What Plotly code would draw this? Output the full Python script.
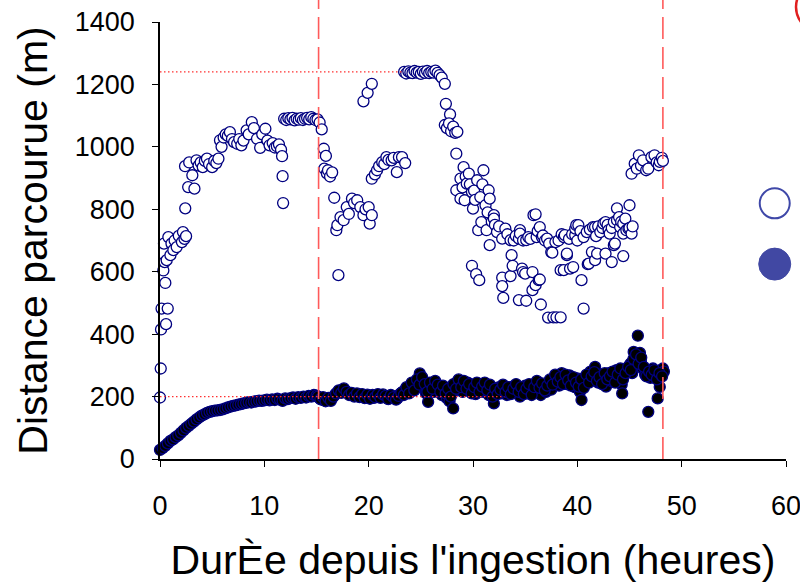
import plotly.graph_objects as go

# ---- data ----
open_x = [0.0, 0.07, 0.1, 0.15, 0.32, 0.38, 0.45, 0.51, 0.58, 0.64, 0.74, 0.8, 1.0, 1.1, 1.28, 1.4, 1.6, 1.8,
          2.1, 2.2, 2.35, 2.42, 2.4, 2.5, 2.7, 2.8, 3.1, 3.3, 3.5, 3.7, 3.9, 4.1, 4.3, 4.5, 4.7, 5.0, 5.2, 5.4,
          5.6, 5.75, 5.9, 6.1, 6.3, 6.5, 6.7, 6.9, 7.1, 7.4, 7.6, 7.8, 8.0, 8.3, 8.5, 8.8, 9.0, 9.3, 9.6, 9.8,
          10.1, 10.3, 10.5, 10.8, 11.0, 11.2, 11.4, 11.6, 11.7, 11.75, 11.8,
          11.9, 12.1, 12.3, 12.5, 12.7, 12.9, 13.1, 13.3, 13.5, 13.7, 13.9, 14.1, 14.3, 14.5, 14.7, 14.9, 15.1,
          15.3, 15.5, 15.7, 15.75, 15.9, 16.0, 16.1, 16.3, 16.5, 16.7, 16.9, 17.0, 17.1, 17.3, 17.6, 17.9, 18.1,
          18.4, 18.6, 18.9, 19.2, 19.5, 19.5, 19.7, 19.9, 20.0, 20.1, 20.3, 20.3, 20.3, 20.6, 20.8, 21.0, 21.3,
          21.5, 21.7, 21.9, 22.2, 22.4, 22.7, 22.9, 23.2, 23.5,
          23.4, 23.6, 23.8, 24.0, 24.2, 24.4, 24.6, 24.8, 25.0, 25.2, 25.4, 25.6, 25.8, 26.0, 26.2, 26.4, 26.6,
          26.8, 27.0, 27.3, 27.4, 27.8, 27.3, 27.5, 27.7, 27.9, 28.1, 28.3, 28.5, 28.4,
          28.4, 28.8, 28.8, 29.0, 29.1, 29.2, 29.3, 29.4, 29.6, 29.7, 29.9, 29.9, 30.0, 30.1, 30.2, 30.3, 30.4,
          30.5, 30.6, 30.7, 30.8, 30.9, 31.0, 31.2, 31.3, 31.4, 31.5, 31.6, 31.6, 31.8, 32.0, 32.0, 32.1, 32.3,
          32.5, 32.8, 32.8, 32.8, 32.9, 33.1, 33.3, 33.6, 33.6, 33.7, 33.8, 33.9, 34.1, 34.4, 34.4, 34.5, 34.5,
          34.7, 34.8, 34.8, 35.0, 35.1, 35.1, 35.3, 35.5, 35.7, 35.7, 35.8, 36.0, 36.0, 36.1, 36.2, 36.3, 36.4,
          36.4, 36.5, 36.6, 36.7, 36.9, 37.1, 37.2, 37.3, 37.5, 37.6, 37.7, 37.9, 38.0, 38.2, 38.4, 38.4, 38.5,
          38.7, 38.7, 38.8, 39.0, 39.0, 39.2, 39.3, 39.5, 39.6, 39.8, 39.8, 39.9, 40.0, 40.1, 40.3, 40.4, 40.6,
          40.6, 40.9, 41.0, 41.1, 41.2, 41.4, 41.5, 41.7, 41.7, 41.8, 41.9, 42.0, 42.2, 42.4, 42.5, 42.7, 42.7,
          42.9, 43.0, 43.1, 43.3, 43.3, 43.5, 43.5, 43.6, 43.8, 43.8, 44.0, 44.1, 44.2, 44.4, 44.4, 44.4, 44.6,
          44.7, 44.9, 45.0, 45.0, 45.2, 45.3,
          45.2, 45.5, 45.7, 45.9, 46.1, 46.3, 46.6, 46.8, 47.1, 47.4, 47.6, 47.8, 47.9, 48.1, 48.2]
open_y = [197, 290, 415, 482, 604, 690, 631, 564, 432, 637, 482, 711, 653, 690, 669, 700, 679, 715,
          695, 727, 705, 803, 938, 714, 871, 950, 909, 866, 957, 940, 950, 935, 955, 962, 945, 935, 955, 948,
          962, 1021, 1000, 1030, 1040, 1035, 1047, 1025, 1015, 1010, 1025, 1005, 1020, 1053, 1040, 1079, 1060, 1026, 997, 1040,
          1058, 1020, 1005, 1012, 998, 1002, 1008, 991, 970, 906, 820,
          1090, 1086, 1092, 1088, 1093, 1085, 1090, 1087, 1092, 1086, 1090, 1093, 1088, 1095, 1090, 1086, 1088,
          1078, 1056, 994, 930, 971, 915, 925, 905, 918, 837, 733, 749, 589, 775, 765, 807, 785,
          834, 820, 829, 807, 781, 1146, 800, 1173, 807, 754, 781, 1202, 898, 912, 925, 938, 951,
          945, 967, 958, 957, 965, 919, 967, 967, 948,
          1240, 1235, 1242, 1238, 1236, 1243, 1238, 1240, 1234, 1241, 1237, 1243, 1236, 1240, 1238, 1244, 1237,
          1230, 1222, 1202, 1138, 1104, 1070, 1060, 1075, 1050, 1065, 1045, 1048, 978,
          861, 898, 834, 870, 935, 829, 905, 882, 914, 880, 855, 619, 802, 860, 830, 592, 893,
          733, 573, 839, 759, 880, 925, 813, 733, 790, 861, 834, 685, 760, 781, 770, 750, 727,
          745, 706, 581, 554, 516, 738, 720, 701, 586, 653, 619, 700, 715, 706, 509, 733, 722,
          610, 599, 700, 594, 701, 507, 711, 705, 599, 541, 781, 784, 557, 711, 730, 573, 743,
          575, 495, 711, 716, 700, 706, 453, 690, 663, 661, 454, 695, 454, 700, 454, 605, 720,
          711, 605, 717, 653, 658, 705, 610, 720, 615, 717, 738, 749, 700, 749, 730, 573, 482,
          711, 727, 624, 626, 735, 663, 743, 637, 743, 714, 658, 745, 727, 740, 754, 658, 759,
          750, 733, 722, 631, 740, 685, 759, 690, 803, 765, 775, 743, 760, 650, 722, 754, 770,
          733, 738, 813, 740, 722, 745,
          914, 946, 930, 973, 940, 957, 925, 930, 967, 973, 950, 941, 952, 965, 955]

filled_x = [0.0, 0.25, 0.5, 0.75, 1.0, 1.25, 1.5, 1.75, 2.0, 2.25, 2.5, 2.75, 3.0, 3.25, 3.5, 3.75, 4.0, 4.25,
            4.5, 4.75, 5.0, 5.25, 5.5, 5.75, 6.0, 6.25, 6.5, 6.75, 7.0, 7.25, 7.5, 7.75, 8.0, 8.25, 8.5, 8.75,
            9.0, 9.25, 9.5, 9.75, 10.0, 10.25, 10.5, 10.75, 11.0, 11.25, 11.5, 11.75, 12.0, 12.25, 12.5, 12.75,
            13.0, 13.25, 13.5, 13.75, 14.0, 14.25, 14.5, 14.75, 15.0, 15.25, 15.5, 15.75, 16.0, 16.25, 16.5,
            16.75, 17.0, 17.25, 17.5, 17.75, 18.0, 18.25, 18.5, 18.75, 19.0, 19.25, 19.5, 19.75, 20.0, 20.25,
            20.5, 20.75, 21.0, 21.25, 21.5, 21.75, 22.0, 22.25, 22.5, 22.75, 23.0, 23.25, 23.5, 23.75, 24.0,
            24.25, 24.5, 24.75, 24.9, 25.0, 25.25, 25.5, 25.7, 25.75, 26.0, 26.25, 26.5, 26.75, 27.0, 27.25,
            27.5, 27.75, 28.0, 28.1, 28.25, 28.5, 28.75, 29.0, 29.25, 29.5, 29.75, 30.0, 30.25, 30.5, 30.75,
            31.0, 31.25, 31.5, 31.75, 32.0, 32.25, 32.5, 32.75, 33.0, 33.25, 33.5, 33.75, 34.0, 34.25, 34.5,
            34.75, 35.0, 35.25, 35.5, 35.75, 36.0, 36.25, 36.5, 36.75, 37.0, 37.25, 37.5, 37.75, 38.0, 38.25,
            38.5, 38.75, 39.0, 39.25, 39.5, 39.75, 40.0, 40.25, 40.4, 40.5, 40.75, 41.0, 41.25, 41.5, 41.7,
            41.75, 42.0, 42.25, 42.5, 42.75, 43.0, 43.25, 43.5, 43.75, 44.0, 44.25, 44.3, 44.5, 44.75, 45.0,
            45.1, 45.25, 45.4, 45.5, 45.8, 45.9, 46.0, 46.1, 46.25, 46.5, 46.75, 46.8, 47.0, 47.25, 47.5, 47.6,
            47.7, 47.75, 47.9, 48.0, 48.2, 48.3]
filled_y = [29, 35, 42, 50, 58, 63, 70, 76, 84, 92, 100, 106, 113, 120, 127, 133, 139, 143,
            148, 151, 153, 155, 156, 157, 159, 162, 165, 168, 170, 172, 174, 176, 178, 180, 182, 181,
            184, 185, 187, 186, 188, 190, 188, 191, 189, 193, 190, 186, 194, 192, 195, 197,
            193, 198, 196, 200, 197, 202, 200, 205, 203, 196, 190, 188, 192, 190, 196,
            205, 213, 218, 221, 219, 214, 209, 206, 203, 207, 205, 202, 199, 203, 200,
            196, 201, 205, 203, 199, 195, 198, 202, 196, 194, 208, 215, 222, 218, 225,
            230, 240, 232, 274, 245, 228, 210, 183, 225, 235, 215, 240, 228, 205, 220,
            195, 185, 210, 162, 230, 248, 240, 215, 232, 245, 220, 238, 208, 225, 240,
            215, 230, 205, 222, 178, 215, 230, 210, 225, 205, 218, 232, 212, 225, 200,
            218, 235, 210, 228, 215, 240, 220, 205, 232, 215, 240, 222, 250, 262, 235,
            275, 255, 240, 268, 245, 230, 258, 215, 189, 240, 262, 250, 280, 258, 295,
            265, 245, 270, 255, 232, 275, 250, 265, 285, 260, 238, 210, 270, 285, 300,
            306, 275, 343, 325, 395, 320, 340, 310, 290, 270, 285, 151, 260, 290, 275, 280,
            194, 265, 231, 285, 290, 280]

# additional readings of the dense filled band (between the points above)
filled_x2 = [15.125, 15.375, 15.625, 15.875, 16.125, 16.375, 16.625, 16.875, 17.125, 17.375, 17.625, 17.875,
             18.125, 18.375, 18.625, 18.875, 19.125, 19.375, 19.625, 19.875, 20.125, 20.375, 20.625, 20.875,
             21.125, 21.375, 21.625, 21.875, 22.125, 22.375, 22.625, 22.875,
             23.125, 23.375, 23.625, 23.875, 24.125, 24.375, 24.625, 24.875, 25.125, 25.375, 25.625, 25.875,
             26.125, 26.375, 26.625, 26.875, 27.125, 27.375, 27.625, 27.875, 28.125, 28.375, 28.625, 28.875,
             29.125, 29.375, 29.625, 29.875, 30.125, 30.375, 30.625, 30.875, 31.125, 31.375, 31.625, 31.875,
             32.125, 32.375, 32.625, 32.875, 33.125, 33.375, 33.625, 33.875, 34.125, 34.375, 34.625, 34.875,
             35.125, 35.375, 35.625, 35.875, 36.125, 36.375, 36.625, 36.875, 37.125, 37.375, 37.625, 37.875,
             38.125, 38.375, 38.625, 38.875, 39.125, 39.375, 39.625, 39.875, 40.125, 40.375, 40.625, 40.875,
             41.125, 41.375, 41.625, 41.875, 42.125, 42.375, 42.625, 42.875, 43.125, 43.375, 43.625, 43.875,
             44.125, 44.375, 44.625, 44.875, 45.125, 45.375, 45.625, 45.875, 46.125, 46.375, 46.625, 46.875,
             47.125, 47.375, 47.625, 47.875, 48.125]
filled_y2 = [200, 192, 198, 185, 196, 186, 200, 210, 220, 212, 226, 215,
             205, 212, 200, 210, 198, 208, 195, 206, 193, 205, 198, 208,
             196, 207, 202, 192, 205, 198, 190, 202,
             212, 205, 230, 210, 245, 220, 255, 238, 262, 240, 215, 245,
             225, 250, 238, 215, 235, 210, 225, 200, 240, 225, 255, 230,
             250, 225, 240, 210, 230, 245, 215, 232, 245, 220, 238, 200,
             225, 208, 222, 238, 215, 230, 208, 225, 240, 215, 230, 208,
             225, 240, 205, 230, 250, 228, 242, 220, 235, 255, 238, 270,
             248, 262, 240, 270, 252, 235, 262, 245, 232, 255, 228, 270,
             245, 265, 278, 250, 262, 240, 275, 255, 265, 280, 245, 270,
             290, 255, 275, 295, 285, 320, 335, 305, 325, 295, 265, 280,
             270, 285, 255, 275, 265]

x_ticks = [0, 10, 20, 30, 40, 50, 60]
y_ticks = [0, 200, 400, 600, 800, 1000, 1200, 1400]
event_hours = [15.2, 48.2]          # red dashed vertical markers
ref_levels = [1240, 200]            # red dotted reference levels
ref_ends = [23.3, 33.0]             # hours where dotted lines stop

NAVY = "#000080"
FONT = "Liberation Sans, Arial, sans-serif"

fig = go.Figure()
fig.add_trace(go.Scatter(x=open_x, y=open_y, mode="markers",
                         marker=dict(symbol="circle", size=11, color="white",
                                     line=dict(color=NAVY, width=1.3)),
                         showlegend=False, cliponaxis=False))
fig.add_trace(go.Scatter(x=filled_x + filled_x2, y=filled_y + filled_y2, mode="markers",
                         marker=dict(symbol="circle", size=11, color="black",
                                     line=dict(color=NAVY, width=1.3)),
                         showlegend=False, cliponaxis=False))

shapes = []
for lvl, end in zip(ref_levels, ref_ends):
    shapes.append(dict(type="line", xref="x", yref="y", x0=0, x1=end, y0=lvl, y1=lvl,
                       line=dict(color="#FF3030", width=1.3, dash="1.5px,2.5px"), layer="above"))
for h in event_hours:
    shapes.append(dict(type="line", xref="x", yref="paper", x0=h, x1=h, y0=0, y1=1.06,
                       line=dict(color="#FF5A5A", width=1.6, dash="22px,8px"), layer="above"))
# legend symbols (cropped legend at right)
shapes.append(dict(type="circle", xref="paper", yref="paper", xsizemode="pixel", ysizemode="pixel",
                   xanchor=0.982, yanchor=0.585, x0=-15, x1=15, y0=-15, y1=15,
                   line=dict(color="#3F48A8", width=2), fillcolor="white"))
shapes.append(dict(type="circle", xref="paper", yref="paper", xsizemode="pixel", ysizemode="pixel",
                   xanchor=0.982, yanchor=0.446, x0=-16, x1=16, y0=-16, y1=16,
                   line=dict(color="#4148A3", width=1), fillcolor="#4148A3"))
# red annotation ellipse, mostly outside the window
shapes.append(dict(type="circle", xref="paper", yref="paper", xsizemode="pixel", ysizemode="pixel",
                   xanchor=1, yanchor=1, x0=10, x1=70, y0=-12, y1=42,
                   line=dict(color="#E02020", width=2.5)))

fig.update_layout(
    width=800, height=583,
    margin=dict(l=160, r=14, t=22, b=124, autoexpand=False),
    paper_bgcolor="white", plot_bgcolor="white",
    font=dict(family=FONT, color="black"),
    shapes=shapes,
    xaxis=dict(range=[0, 60], tickvals=x_ticks, ticktext=[str(v) for v in x_ticks],
               showgrid=False, zeroline=False, showline=True, linecolor="black", linewidth=1.5,
               ticks="outside", ticklen=6, tickwidth=1.3, tickcolor="black",
               tickfont=dict(size=27, family=FONT), ticklabelstandoff=16,
               ticklabeloverflow="allow",
               title=dict(text="DurÈe depuis l'ingestion (heures)", font=dict(size=41, family=FONT),
                          standoff=25),
               automargin=False),
    yaxis=dict(range=[0, 1400], tickvals=y_ticks, ticktext=[str(v) for v in y_ticks],
               showgrid=False, zeroline=False, showline=True, linecolor="black", linewidth=1.5,
               ticks="outside", ticklen=6, tickwidth=1.3, tickcolor="black",
               tickfont=dict(size=27, family=FONT), ticklabelstandoff=12,
               title=dict(text="Distance parcourue (m)", font=dict(size=41, family=FONT), standoff=14),
               automargin=False),
)

fig.write_html("out.html", config={"displayModeBar": False},
               post_script="document.body.style.margin='0px';")
